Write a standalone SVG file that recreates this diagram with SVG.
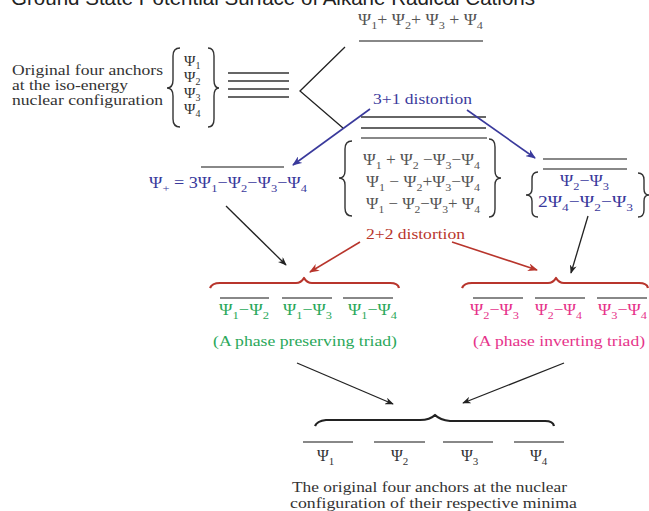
<svg xmlns="http://www.w3.org/2000/svg" width="649" height="511" viewBox="0 0 649 511">
<defs>
<style>
text{font-family:"Liberation Serif","Times New Roman",serif;font-size:15px}
.f{font-size:16px}
.t{font-family:"Liberation Sans",Arial,sans-serif;font-size:20px;fill:#222}
.lt{font-size:14.5px}
.k{fill:#333}
.g{fill:#555}
.b{fill:#3a3a9c}
.r{fill:#b8352c}
.gr{fill:#2aa85a}
.p{fill:#e6338a}
.sb{font-size:11px;baseline-shift:-4px}
.ss{font-size:10px;baseline-shift:-3px}
.lv{stroke:#888;stroke-width:2;fill:none}
.ld{stroke:#333;stroke-width:1.5;fill:none}
.br{stroke:#333;stroke-width:1.4;fill:none}
.hb{stroke-width:2.2;fill:none;stroke-linejoin:round}
.cb{stroke:#3a3a9c;stroke-width:1.6;fill:none}
.cr{stroke:#b8352c;stroke-width:1.6;fill:none}
.ck{stroke:#222;stroke-width:1.3;fill:none}
</style>
<marker id="ab" viewBox="0 0 10 8" refX="9" refY="4" markerWidth="10" markerHeight="8" markerUnits="userSpaceOnUse" orient="auto"><path d="M0,0 L10,4 L0,8 L3,4 Z" fill="#3a3a9c"/></marker>
<marker id="ar" viewBox="0 0 10 8" refX="9" refY="4" markerWidth="10" markerHeight="8" markerUnits="userSpaceOnUse" orient="auto"><path d="M0,0 L10,4 L0,8 L3,4 Z" fill="#b8352c"/></marker>
<marker id="ak" viewBox="0 0 10 8" refX="9" refY="4" markerWidth="9" markerHeight="7" markerUnits="userSpaceOnUse" orient="auto"><path d="M0,0 L10,4 L0,8 L3,4 Z" fill="#222"/></marker>
</defs>
<rect width="649" height="511" fill="#fff"/>

<text class="t" x="11" y="4.5" textLength="524" lengthAdjust="spacingAndGlyphs">Ground State Potential Surface of Alkane Radical Cations</text>

<g id="anchors">
<text class="k lt" x="12" y="75" textLength="151" lengthAdjust="spacingAndGlyphs">Original four anchors</text>
<text class="k lt" x="12" y="90" textLength="116" lengthAdjust="spacingAndGlyphs">at the iso-energy</text>
<text class="k lt" x="12" y="105" textLength="151" lengthAdjust="spacingAndGlyphs">nuclear configuration</text>
<path class="br" d="M180,48 Q173,48 173,56 L173,80 Q173,88 167,88 Q173,88 173,96 L173,119 Q173,127 180,127"/>
<text class="k" x="184" y="66" style="font-size:15.5px">Ψ<tspan class="ss">1</tspan></text>
<text class="k" x="184" y="82" style="font-size:15.5px">Ψ<tspan class="ss">2</tspan></text>
<text class="k" x="184" y="98" style="font-size:15.5px">Ψ<tspan class="ss">3</tspan></text>
<text class="k" x="184" y="114" style="font-size:15.5px">Ψ<tspan class="ss">4</tspan></text>
<path class="br" d="M208,48 Q214,48 214,56 L214,80 Q214,88 219,88 Q214,88 214,96 L214,119 Q214,127 208,127"/>
<line class="ld" x1="228" y1="73" x2="289" y2="73"/>
<line class="ld" x1="228" y1="81" x2="289" y2="81"/>
<line class="ld" x1="228" y1="89" x2="289" y2="89"/>
<line class="ld" x1="228" y1="97" x2="289" y2="97"/>
</g>

<g id="top-level">
<text class="g f" x="358" y="25" textLength="125" lengthAdjust="spacingAndGlyphs">Ψ<tspan class="sb">1</tspan>+ Ψ<tspan class="sb">2</tspan>+ Ψ<tspan class="sb">3</tspan> + Ψ<tspan class="sb">4</tspan></text>
<line class="lv" x1="359" y1="41" x2="483" y2="41"/>
</g>

<g id="triple-level">
<line class="ld" x1="361" y1="117" x2="486" y2="117"/>
<line class="ld" x1="361" y1="128" x2="486" y2="128"/>
<line class="lv" x1="361" y1="138" x2="487" y2="138"/>
<path class="br" d="M352,141 Q345,141 345,149 L345,171 Q345,178 339,178 Q345,178 345,185 L345,208 Q345,216 352,216"/>
<text class="g f" x="363" y="165" textLength="117" lengthAdjust="spacingAndGlyphs">Ψ<tspan class="sb">1</tspan> + Ψ<tspan class="sb">2</tspan> −Ψ<tspan class="sb">3</tspan>−Ψ<tspan class="sb">4</tspan></text>
<text class="g f" x="366" y="187" textLength="114" lengthAdjust="spacingAndGlyphs">Ψ<tspan class="sb">1</tspan> − Ψ<tspan class="sb">2</tspan>+Ψ<tspan class="sb">3</tspan>−Ψ<tspan class="sb">4</tspan></text>
<text class="g f" x="366" y="209" textLength="114" lengthAdjust="spacingAndGlyphs">Ψ<tspan class="sb">1</tspan> − Ψ<tspan class="sb">2</tspan>−Ψ<tspan class="sb">3</tspan>+ Ψ<tspan class="sb">4</tspan></text>
<path class="br" d="M489,139 Q495,139 495,147 L495,171 Q495,178 501,178 Q495,178 495,185 L495,209 Q495,217 489,217"/>
</g>

<g id="single-level">
<line class="lv" x1="201" y1="167" x2="284" y2="167"/>
<text class="b f" x="149" y="188" textLength="158" lengthAdjust="spacingAndGlyphs">Ψ<tspan class="sb">+</tspan> = 3Ψ<tspan class="sb">1</tspan>−Ψ<tspan class="sb">2</tspan>−Ψ<tspan class="sb">3</tspan>−Ψ<tspan class="sb">4</tspan></text>
</g>

<g id="double-level">
<line class="lv" x1="543" y1="159" x2="627" y2="159"/>
<line class="lv" x1="543" y1="169" x2="627" y2="169"/>
<path class="br" d="M538,172 Q532,172 532,179 L532,189 Q532,195 526,195 Q532,195 532,201 L532,211 Q532,217 538,217"/>
<text class="b f" x="560" y="186" textLength="49" lengthAdjust="spacingAndGlyphs">Ψ<tspan class="sb">2</tspan>−Ψ<tspan class="sb">3</tspan></text>
<text class="b f" x="538" y="207" textLength="95" lengthAdjust="spacingAndGlyphs">2Ψ<tspan class="sb">4</tspan>−Ψ<tspan class="sb">2</tspan>−Ψ<tspan class="sb">3</tspan></text>
<path class="br" d="M638,173 Q644,173 644,180 L644,189 Q644,195 649,195 Q644,195 644,201 L644,210 Q644,217 638,217"/>
</g>

<g id="preserving-triad">
<path class="hb" stroke="#b8352c" d="M210,288 Q212,283 220,283 L296,283 Q301,283 304,278 Q307,283 312,283 L390,283 Q398,283 399,288"/>
<line class="lv" x1="220" y1="298" x2="269" y2="298"/>
<line class="lv" x1="282" y1="298" x2="332" y2="298"/>
<line class="lv" x1="343" y1="298" x2="393" y2="298"/>
<text class="gr f" x="219" y="315" textLength="50" lengthAdjust="spacingAndGlyphs">Ψ<tspan class="sb">1</tspan>−Ψ<tspan class="sb">2</tspan></text>
<text class="gr f" x="283" y="315" textLength="49" lengthAdjust="spacingAndGlyphs">Ψ<tspan class="sb">1</tspan>−Ψ<tspan class="sb">3</tspan></text>
<text class="gr f" x="348" y="315" textLength="49" lengthAdjust="spacingAndGlyphs">Ψ<tspan class="sb">1</tspan>−Ψ<tspan class="sb">4</tspan></text>
<text class="gr" x="213" y="346" textLength="184" lengthAdjust="spacingAndGlyphs">(A phase preserving triad)</text>
</g>

<g id="inverting-triad">
<path class="hb" stroke="#b8352c" d="M462,288 Q464,283 472,283 L548,283 Q553,283 556,278 Q559,283 564,283 L639,283 Q647,283 648,288"/>
<line class="lv" x1="473" y1="298" x2="523" y2="298"/>
<line class="lv" x1="535" y1="298" x2="585" y2="298"/>
<line class="lv" x1="597" y1="298" x2="647" y2="298"/>
<text class="p f" x="470" y="315" textLength="49" lengthAdjust="spacingAndGlyphs">Ψ<tspan class="sb">2</tspan>−Ψ<tspan class="sb">3</tspan></text>
<text class="p f" x="535" y="315" textLength="47" lengthAdjust="spacingAndGlyphs">Ψ<tspan class="sb">2</tspan>−Ψ<tspan class="sb">4</tspan></text>
<text class="p f" x="598" y="315" textLength="49" lengthAdjust="spacingAndGlyphs">Ψ<tspan class="sb">3</tspan>−Ψ<tspan class="sb">4</tspan></text>
<text class="p" x="473" y="346" textLength="172" lengthAdjust="spacingAndGlyphs">(A phase inverting triad)</text>
</g>

<g id="minima">
<path class="hb" stroke="#222" d="M315,426 Q317,421 326,420 L420,420 Q430,420 435,415 Q440,420 450,421 L545,421 Q553,421 554,426"/>
<line class="lv" x1="303" y1="442" x2="353" y2="442"/>
<line class="lv" x1="374" y1="442" x2="425" y2="442"/>
<line class="lv" x1="443" y1="442" x2="493" y2="442"/>
<line class="lv" x1="514" y1="442" x2="564" y2="442"/>
<text class="k f" x="317" y="461">Ψ<tspan class="sb">1</tspan></text>
<text class="k f" x="391" y="461">Ψ<tspan class="sb">2</tspan></text>
<text class="k f" x="461" y="461">Ψ<tspan class="sb">3</tspan></text>
<text class="k f" x="530" y="461">Ψ<tspan class="sb">4</tspan></text>
<text class="k" x="292" y="492" textLength="275" lengthAdjust="spacingAndGlyphs">The original four anchors at the nuclear</text>
<text class="k" x="290" y="508" textLength="287" lengthAdjust="spacingAndGlyphs">configuration of their respective minima</text>
</g>

<g id="connectors">
<polyline class="ck" points="345,47 300,91 343,128"/>
<text class="b" x="373" y="104" textLength="99" lengthAdjust="spacingAndGlyphs">3+1 distortion</text>
<line class="cb" x1="370" y1="109" x2="293" y2="165" marker-end="url(#ab)"/>
<line class="cb" x1="467" y1="110" x2="535" y2="158" marker-end="url(#ab)"/>
<line class="ck" x1="226" y1="206" x2="286" y2="265" marker-end="url(#ak)"/>
<line class="ck" x1="588" y1="216" x2="571" y2="273" marker-end="url(#ak)"/>
<text class="r" x="366" y="239" textLength="99" lengthAdjust="spacingAndGlyphs">2+2 distortion</text>
<line class="cr" x1="360" y1="242" x2="310" y2="272" marker-end="url(#ar)"/>
<line class="cr" x1="452" y1="242" x2="537" y2="270" marker-end="url(#ar)"/>
<line class="ck" x1="297" y1="363" x2="393" y2="404" marker-end="url(#ak)"/>
<line class="ck" x1="564" y1="363" x2="463" y2="403" marker-end="url(#ak)"/>
</g>
</svg>
